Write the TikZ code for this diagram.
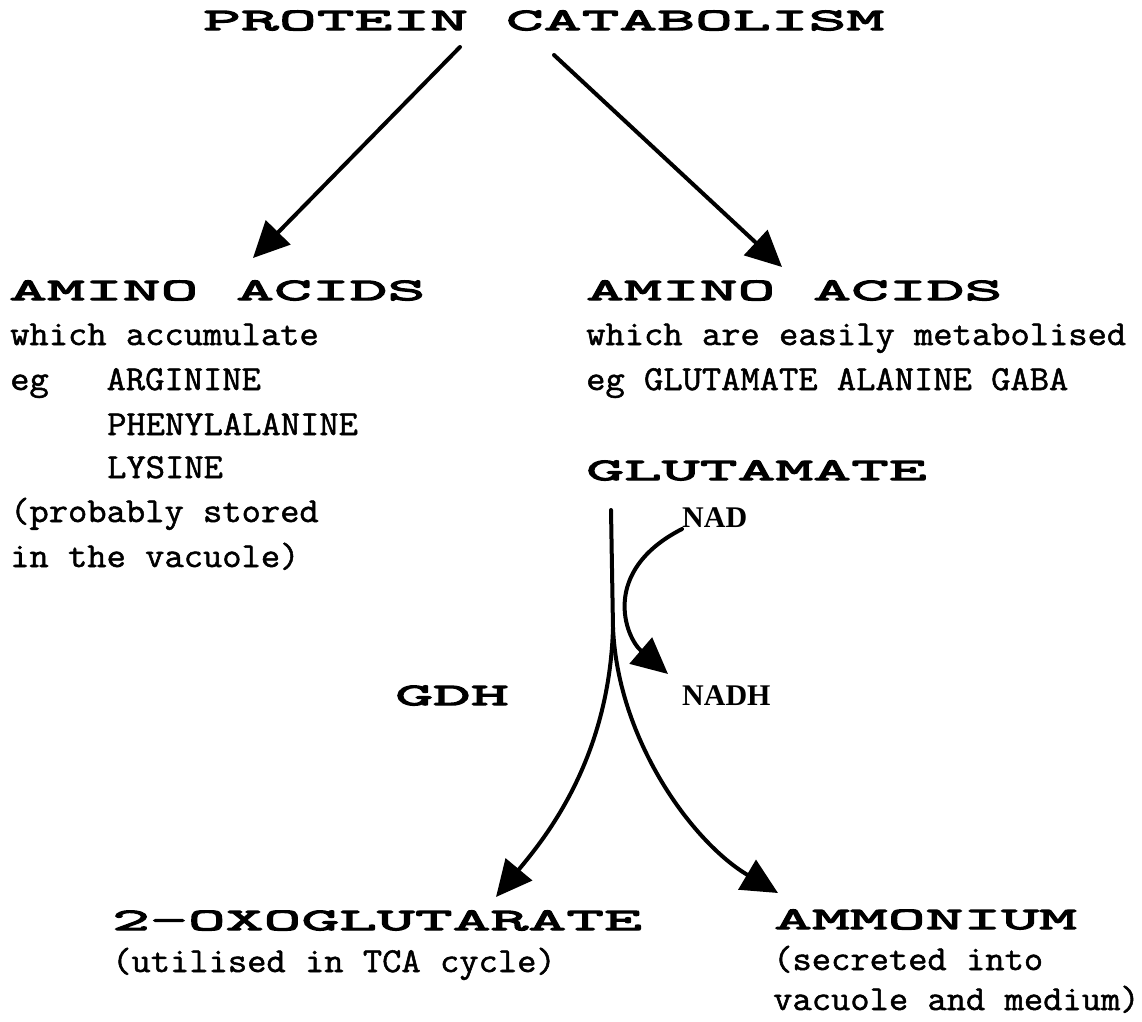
\documentclass[tikz,border=0pt]{standalone}
\usepackage{fontspec}
\usetikzlibrary{arrows.meta}

\newfontfamily\typefont{Latin Modern Mono}[FakeStretch=1.07, FakeBold=1.5]
\newfontfamily\widefont{Latin Modern Mono}[FakeStretch=2.37, FakeBold=4.5]
\newfontfamily\nadfont{Liberation Serif}

\tikzset{
  head/.style={font=\widefont\fontsize{31}{31}\selectfont, anchor=base west, inner sep=0pt},
  body/.style={font=\typefont\fontsize{35}{35}\selectfont, anchor=base west, inner sep=0pt},
  cofactor/.style={font=\nadfont\bfseries\fontsize{30}{30}\selectfont, anchor=base west, inner sep=0pt},
  flow/.style={-{Triangle[length=36pt,width=34pt]}, line width=4pt, line cap=round},
}

\begin{document}
\begin{tikzpicture}[x=1pt,y=-1pt]
    \useasboundingbox (0,0) rectangle (1142,1021);

    \node[head] (title) at (203,30) {PROTEIN CATABOLISM}; % Label for the whole process

    % Amino acids which accumulate
    \node[head] (aaleft) at (9,300) {AMINO ACIDS};
    \node[body] (accum) at (10,345) {which accumulate};
    \node[body] (arg) at (10,390) {eg\ \ \ ARGININE};
    \node[body] (phe) at (107,435) {PHENYLALANINE};
    \node[body] (lys) at (107,478) {LYSINE};
    \node[body] (stored) at (10,522) {(probably stored};
    \node[body] (vac) at (10,567) {in the vacuole)};

    % Amino acids which are metabolised
    \node[head] (aaright) at (586,300) {AMINO ACIDS};
    \node[body] (metab) at (586,345) {which are easily metabolised};
    \node[body] (egright) at (586,390) {eg GLUTAMATE ALANINE GABA};
    \node[head] (glu) at (586,480) {GLUTAMATE};

    \node[cofactor] (nad) at (682,527) {NAD};
    \node[head] (gdh) at (395,705) {GDH}; % Label for the enzyme
    \node[cofactor] (nadh) at (682,705) {NADH};

    % Products
    \node[head] (oxo) at (112,930) {2-OXOGLUTARATE};
    \node[body] (tca) at (112,972) {(utilised in TCA cycle)};
    \node[head] (nhfour) at (774,929) {AMMONIUM};
    \node[body] (secr) at (773,970) {(secreted into};
    \node[body] (medium) at (773,1010) {vacuole and medium)};

    % Ends of the arrows
    \coordinate (pcleft) at (460,47);
    \coordinate (pcright) at (554,55);
    \coordinate (aalefttip) at (253,258);
    \coordinate (aarighttip) at (782,267);
    \coordinate (glutop) at (611,510);
    \coordinate (split) at (613,628);
    \coordinate (oxotip) at (496,897);
    \coordinate (nhfourtip) at (778,893);
    \coordinate (nadstart) at (682,529);
    \coordinate (nadhtip) at (668,674);

    % Draw the arrows from protein to the two groups of amino acids
    \draw[flow] (pcleft) -- (aalefttip);
    \draw[flow] (pcright) -- (aarighttip);

    % Glutamate splits into 2-oxoglutarate and ammonium
    \draw[line width=4pt, line cap=round] (glutop) -- (split);
    \draw[flow] (split) .. controls (609,760) and (545,838) .. (oxotip);
    \draw[flow] (split) .. controls (618,740) and (692,842) .. (nhfourtip);

    % NAD to NADH
    \draw[flow] (nadstart) .. controls (600,571) and (625,637) .. (nadhtip);
\end{tikzpicture}
\end{document}
